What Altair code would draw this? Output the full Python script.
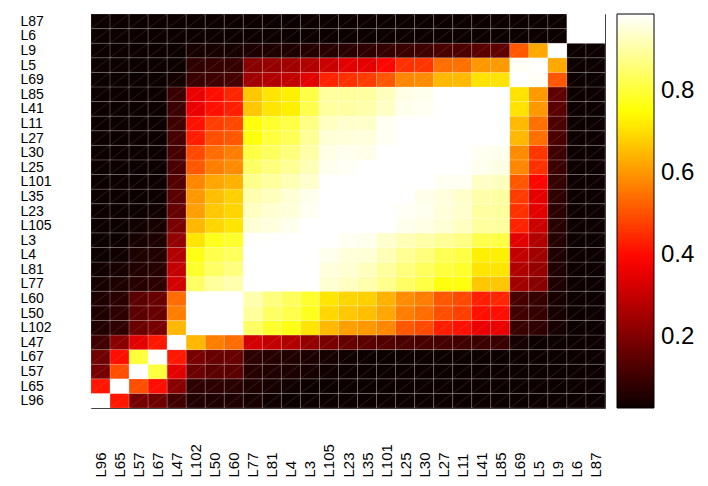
import altair as alt
import pandas as pd

labels = ["L96", "L65", "L57", "L67", "L47", "L102", "L50", "L60", "L77", "L81",
          "L4", "L3", "L105", "L23", "L35", "L101", "L25", "L30", "L27", "L11",
          "L41", "L85", "L69", "L5", "L9", "L6", "L87"]

# lower triangle of the symmetric matrix: row i holds columns 0..i
lower = [
    [1.0],
    [0.417, 1.0],
    [0.185, 0.497, 1.0],
    [0.174, 0.405, 0.803, 1.0],
    [0.105, 0.212, 0.345, 0.42, 1.0],
    [0.06, 0.08, 0.167, 0.19, 0.645, 1.0],
    [0.055, 0.076, 0.144, 0.163, 0.565, 0.995, 1.0],
    [0.055, 0.07, 0.143, 0.163, 0.54, 0.995, 0.998, 1.0],
    [0.045, 0.053, 0.067, 0.076, 0.321, 0.84, 0.894, 0.91, 1.0],
    [0.035, 0.045, 0.06, 0.067, 0.297, 0.788, 0.84, 0.865, 0.995, 1.0],
    [0.03, 0.035, 0.053, 0.06, 0.2725, 0.765, 0.818, 0.833, 0.995, 0.998, 1.0],
    [0.03, 0.03, 0.045, 0.053, 0.227, 0.711, 0.773, 0.788, 0.985, 0.995, 0.997, 1.0],
    [0.03, 0.03, 0.035, 0.045, 0.19, 0.645, 0.691, 0.711, 0.947, 0.955, 0.971, 0.995, 1.0],
    [0.03, 0.03, 0.03, 0.035, 0.158, 0.61, 0.668, 0.688, 0.93, 0.944, 0.952, 0.975, 0.998, 1.0],
    [0.03, 0.03, 0.03, 0.03, 0.143, 0.60, 0.656, 0.68, 0.91, 0.925, 0.948, 0.97, 0.998, 0.998, 1.0],
    [0.03, 0.03, 0.03, 0.03, 0.132, 0.577, 0.622, 0.637, 0.879, 0.894, 0.918, 0.94, 0.998, 0.998,
     0.988, 1.0],
    [0.03, 0.03, 0.03, 0.03, 0.12, 0.508, 0.565, 0.584, 0.841, 0.864, 0.886, 0.918, 0.971, 0.978,
     0.988, 0.998, 1.0],
    [0.03, 0.03, 0.03, 0.03, 0.115, 0.49, 0.54, 0.565, 0.81, 0.834, 0.864, 0.902, 0.963, 0.973,
     0.966, 0.998, 0.998, 1.0],
    [0.03, 0.03, 0.03, 0.03, 0.113, 0.428, 0.497, 0.508, 0.757, 0.803, 0.826, 0.887, 0.948, 0.952,
     0.955, 0.975, 0.998, 0.998, 1.0],
    [0.03, 0.03, 0.03, 0.03, 0.105, 0.41, 0.474, 0.488, 0.757, 0.788, 0.81, 0.87, 0.93, 0.94,
     0.937, 0.975, 0.99, 0.99, 0.998, 1.0],
    [0.03, 0.03, 0.03, 0.03, 0.098, 0.357, 0.408, 0.43, 0.668, 0.711, 0.726, 0.818, 0.895, 0.897,
     0.906, 0.932, 0.971, 0.975, 0.998, 0.998, 1.0],
    [0.03, 0.03, 0.03, 0.03, 0.094, 0.357, 0.405, 0.439, 0.668, 0.711, 0.725, 0.81, 0.895, 0.894,
     0.898, 0.925, 0.963, 0.971, 0.998, 0.998, 0.998, 1.0],
    [0.03, 0.03, 0.03, 0.03, 0.04, 0.095, 0.105, 0.113, 0.248, 0.2725, 0.297, 0.345, 0.435, 0.455,
     0.47, 0.508, 0.576, 0.584, 0.645, 0.648, 0.708, 0.708, 1.0],
    [0.03, 0.03, 0.03, 0.03, 0.03, 0.08, 0.087, 0.087, 0.212, 0.23, 0.249, 0.2725, 0.31, 0.345,
     0.348, 0.394, 0.455, 0.462, 0.542, 0.545, 0.6, 0.603, 0.978, 1.0],
    [0.03, 0.03, 0.03, 0.03, 0.03, 0.045, 0.045, 0.045, 0.055, 0.055, 0.055, 0.065, 0.068, 0.072,
     0.08, 0.087, 0.098, 0.102, 0.121, 0.125, 0.144, 0.151, 0.508, 0.625, 1.0],
    [0.03, 0.03, 0.03, 0.03, 0.03, 0.03, 0.03, 0.03, 0.03, 0.03, 0.03, 0.03, 0.03, 0.03,
     0.03, 0.03, 0.03, 0.03, 0.03, 0.03, 0.03, 0.03, 0.03, 0.03, 0.03, 1.0],
    [0.03, 0.03, 0.03, 0.03, 0.03, 0.03, 0.03, 0.03, 0.03, 0.03, 0.03, 0.03, 0.03, 0.03,
     0.03, 0.03, 0.03, 0.03, 0.03, 0.03, 0.03, 0.03, 0.03, 0.03, 0.03, 0.995, 1.0],
]

colorbar_ticks = [0.2, 0.4, 0.6, 0.8]

n = len(labels)
records = []
for i in range(n):
    for j in range(n):
        v = lower[i][j] if j <= i else lower[j][i]
        records.append({"row": i, "col": j, "value": v})
df = pd.DataFrame(records)

label_js = "[" + ",".join("'%s'" % s for s in labels) + "]"
centers = [k + 0.5 for k in range(n)]

d0, d1 = 0.027, 0.987
span = d1 - d0
color_scale = alt.Scale(
    domain=[d0, d0 + 0.375 * span, d0 + 0.75 * span, d1],
    range=["#0b0000", "#ff0000", "#ffff00", "#ffffff"],
    interpolate="rgb",
    clamp=True,
)

x_axis = alt.Axis(
    values=centers, labelExpr=label_js + "[floor(datum.value)]",
    labelAngle=270, labelAlign="left", labelBaseline="middle",
    labelPadding=69, ticks=False, tickSize=0, domain=False, grid=False,
    labelFontSize=15, labelFont="Liberation Sans", labelColor="black",
    labelOverlap=False, labelBound=False, labelFlush=False,
)
y_axis = alt.Axis(
    values=centers, labelExpr=label_js + "[floor(datum.value)]",
    labelAlign="left", labelBaseline="middle",
    labelPadding=71, ticks=False, tickSize=0, domain=False, grid=False,
    labelFontSize=14, labelFont="Liberation Sans", labelColor="black",
    labelOverlap=False, labelBound=False, labelFlush=False,
)

x_scale = alt.Scale(domain=[0, n], nice=False, zero=False)
y_scale = alt.Scale(domain=[0, n], nice=False, zero=False)

base = alt.Chart(df).transform_calculate(col2="datum.col + 1", row2="datum.row + 1")

cells = base.mark_rect(stroke="white", strokeOpacity=0.2, strokeWidth=0.8).encode(
    x=alt.X("col:Q", scale=x_scale, title=None, axis=x_axis),
    x2="col2:Q",
    y=alt.Y("row:Q", scale=y_scale, title=None, axis=y_axis),
    y2="row2:Q",
    color=alt.Color(
        "value:Q",
        scale=color_scale,
        title=None,
        legend=alt.Legend(
            orient="none", legendX=526, legendY=0, direction="vertical",
            gradientLength=394, gradientThickness=37,
            gradientStrokeColor="black", gradientStrokeWidth=1,
            values=colorbar_ticks, format=".1f",
            labelFontSize=24, labelFont="Liberation Sans", labelColor="black",
            labelOffset=7, labelOverlap=False,
        ),
    ),
)

diagonals = base.mark_rule(color="white", opacity=0.16, strokeWidth=0.7).encode(
    x=alt.X("col:Q", scale=x_scale, title=None, axis=x_axis),
    x2="col2:Q",
    y=alt.Y("row:Q", scale=y_scale, title=None, axis=y_axis),
    y2="row2:Q",
)

chart = (
    alt.layer(cells, diagonals)
    .properties(
        width=514, height=394,
        autosize=alt.AutoSizeParams(type="none"),
        padding={"left": 83, "top": 6, "right": 95, "bottom": 70},
        background="white",
    )
    .configure_axis(labelOverlap=False)
    .configure_view(stroke="#333333", strokeWidth=1)
)

chart.save("out.html", embed_options={"renderer": "svg", "actions": False})
